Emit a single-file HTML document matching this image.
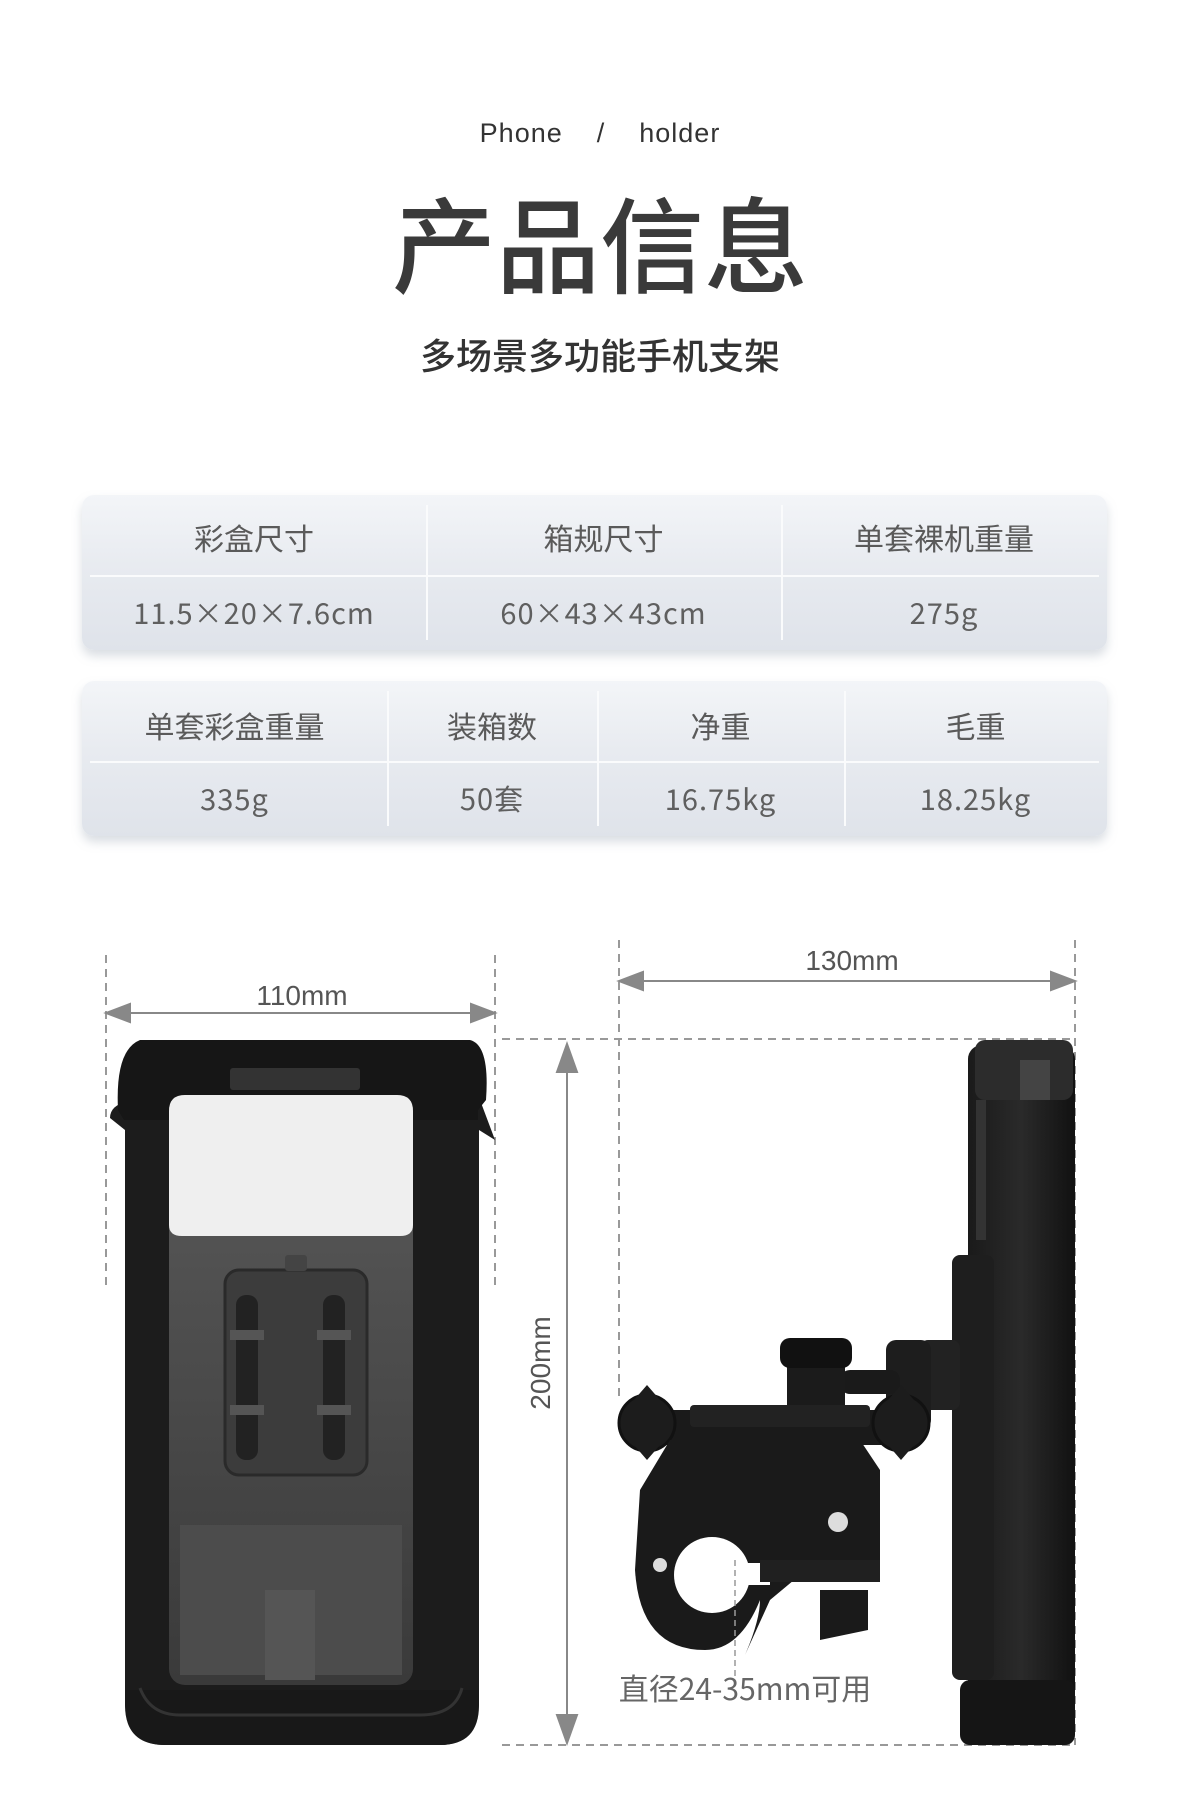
<!DOCTYPE html>
<html><head><meta charset="utf-8">
<style>
html,body{margin:0;padding:0;background:#fff;}
body{width:1200px;height:1800px;position:relative;overflow:hidden;font-family:"Liberation Sans","Noto Sans CJK SC",sans-serif;color:#555;}
.abs{position:absolute;}
.t1{left:0;width:1200px;text-align:center;}
.tbl{position:absolute;left:82px;width:1025px;border-radius:12px;background:linear-gradient(180deg,#f3f5f8 0%,#e8ebf0 45%,#dfe3ea 100%);box-shadow:0 6px 10px rgba(150,160,175,0.35);}
.cell{position:absolute;text-align:center;font-size:30px;line-height:40px;height:40px;color:#5a5a5a;font-family:"Noto Sans CJK SC","Liberation Sans",sans-serif;}
.val{font-family:"Noto Sans CJK SC",sans-serif;font-size:29px;color:#5f5f5f;letter-spacing:1px;}
.vl{position:absolute;width:2px;background:#fafbfc;}
.hl{position:absolute;height:2px;background:#fafbfc;}
</style></head><body>

<div class="abs t1" style="top:118px;font-size:27px;color:#333;letter-spacing:1px;">Phone&nbsp;&nbsp;&nbsp;&nbsp;/&nbsp;&nbsp;&nbsp;&nbsp;holder</div>
<div class="abs t1" style="top:180px;font-size:104px;color:#3a3a3a;font-family:'Noto Sans CJK SC',sans-serif;font-weight:500;line-height:120px;">产品信息</div>
<div class="abs t1" style="top:328px;font-size:36px;color:#333;font-family:'Noto Sans CJK SC',sans-serif;font-weight:500;">多场景多功能手机支架</div>

<div class="tbl" style="top:495px;height:155px;">
  <div class="hl" style="left:8px;right:8px;top:80px;"></div>
  <div class="vl" style="left:344px;top:10px;bottom:10px;"></div>
  <div class="vl" style="left:699px;top:10px;bottom:10px;"></div>
  <div class="cell" style="left:0;width:344px;top:22px;">彩盒尺寸</div>
  <div class="cell" style="left:344px;width:355px;top:22px;">箱规尺寸</div>
  <div class="cell" style="left:699px;width:326px;top:22px;">单套裸机重量</div>
  <div class="cell val" style="left:0;width:344px;top:97px;">11.5×20×7.6cm</div>
  <div class="cell val" style="left:344px;width:355px;top:97px;">60×43×43cm</div>
  <div class="cell val" style="left:699px;width:326px;top:97px;">275g</div>
</div>

<div class="tbl" style="top:681px;height:155px;">
  <div class="hl" style="left:8px;right:8px;top:80px;"></div>
  <div class="vl" style="left:305px;top:10px;bottom:10px;"></div>
  <div class="vl" style="left:515px;top:10px;bottom:10px;"></div>
  <div class="vl" style="left:762px;top:10px;bottom:10px;"></div>
  <div class="cell" style="left:0;width:305px;top:24px;">单套彩盒重量</div>
  <div class="cell" style="left:305px;width:210px;top:24px;">装箱数</div>
  <div class="cell" style="left:515px;width:247px;top:24px;">净重</div>
  <div class="cell" style="left:762px;width:263px;top:24px;">毛重</div>
  <div class="cell val" style="left:0;width:305px;top:97px;">335g</div>
  <div class="cell val" style="left:305px;width:210px;top:97px;">50套</div>
  <div class="cell val" style="left:515px;width:247px;top:97px;">16.75kg</div>
  <div class="cell val" style="left:762px;width:263px;top:97px;">18.25kg</div>
</div>

<svg class="abs" style="left:0;top:0" width="1200" height="1800" viewBox="0 0 1200 1800">
  <defs>
    <linearGradient id="inner" x1="0" y1="0" x2="0" y2="1">
      <stop offset="0" stop-color="#5a5a5a"/><stop offset="1" stop-color="#3a3a3a"/>
    </linearGradient>
    <linearGradient id="side" x1="0" y1="0" x2="1" y2="0">
      <stop offset="0" stop-color="#1a1a1a"/><stop offset="0.5" stop-color="#2a2a2a"/><stop offset="1" stop-color="#111"/>
    </linearGradient>
  </defs>
  <g stroke="#999" stroke-width="2" stroke-dasharray="8,6" fill="none">
    <line x1="106" y1="955" x2="106" y2="1290"/>
    <line x1="495" y1="955" x2="495" y2="1290"/>
    <line x1="619" y1="940" x2="619" y2="1400"/>
    <line x1="1075" y1="940" x2="1075" y2="1745"/>
    <line x1="502" y1="1039" x2="1072" y2="1039"/>
    <line x1="502" y1="1745" x2="1072" y2="1745"/>
  </g>
  <g stroke="#888" stroke-width="2" fill="#888">
    <line x1="110" y1="1013" x2="491" y2="1013"/>
    <polygon points="106,1013 130,1004 130,1022"/>
    <polygon points="495,1013 471,1004 471,1022"/>
    <line x1="623" y1="981" x2="1071" y2="981"/>
    <polygon points="619,981 643,972 643,990"/>
    <polygon points="1075,981 1051,972 1051,990"/>
    <line x1="567" y1="1048" x2="567" y2="1740"/>
    <polygon points="567,1044 557,1072 577,1072"/>
    <polygon points="567,1743 557,1715 577,1715"/>
  </g>
  <text x="302" y="1005" font-size="28" fill="#555" text-anchor="middle" font-family="Liberation Sans">110mm</text>
  <text x="852" y="970" font-size="28" fill="#555" text-anchor="middle" font-family="Liberation Sans">130mm</text>
  <text x="0" y="0" font-size="28" fill="#555" text-anchor="middle" font-family="Liberation Sans" transform="translate(550,1363) rotate(-90)">200mm</text>

  <path d="M145,1100 Q110,1100 110,1118 L125,1130 L125,1700 Q125,1745 165,1745 L440,1745 Q479,1745 479,1700 L479,1130 L495,1140 L480,1100 Q480,1040 440,1040 L170,1040 Q130,1040 125,1090 Z" fill="#1c1c1c"/>
  <path d="M140,1040 L470,1040 Q490,1045 486,1100 L478,1110 L478,1120 L124,1120 L118,1110 Q115,1050 140,1040Z" fill="#161616"/>
  <rect x="230" y="1068" width="130" height="22" rx="3" fill="#333"/>
  <rect x="169" y="1095" width="244" height="590" rx="16" fill="url(#inner)"/>
  <path d="M185,1095 L397,1095 Q413,1095 413,1111 L413,1225 Q413,1236 400,1236 L182,1236 Q169,1236 169,1225 L169,1111 Q169,1095 185,1095Z" fill="#efefef"/>
  <rect x="225" y="1270" width="142" height="205" rx="14" fill="#3c3c3c" stroke="#2a2a2a" stroke-width="3"/>
  <rect x="285" y="1255" width="22" height="16" rx="3" fill="#444"/>
  <rect x="236" y="1295" width="22" height="165" rx="10" fill="#222"/>
  <rect x="323" y="1295" width="22" height="165" rx="10" fill="#222"/>
  <rect x="230" y="1330" width="34" height="10" fill="#555"/><rect x="230" y="1405" width="34" height="10" fill="#555"/>
  <rect x="317" y="1330" width="34" height="10" fill="#555"/><rect x="317" y="1405" width="34" height="10" fill="#555"/>
  <rect x="180" y="1525" width="222" height="150" fill="#4c4c4c"/>
  <rect x="265" y="1590" width="50" height="90" fill="#555"/>
  <path d="M125,1690 L479,1690 L479,1705 Q479,1745 440,1745 L165,1745 Q125,1745 125,1705Z" fill="#181818"/>
  <path d="M140,1688 Q150,1715 180,1715 L420,1715 Q455,1715 462,1688" fill="none" stroke="#333" stroke-width="3"/>

  <rect x="968" y="1045" width="107" height="700" rx="14" fill="url(#side)"/>
  <rect x="975" y="1040" width="98" height="60" rx="10" fill="#2c2c2c"/>
  <rect x="1020" y="1060" width="30" height="40" fill="#444"/>
  <rect x="976" y="1100" width="10" height="140" fill="#333"/>
  <rect x="952" y="1255" width="42" height="425" rx="8" fill="#1e1e1e"/>
  <rect x="960" y="1680" width="115" height="65" rx="10" fill="#151515"/>

  <rect x="920" y="1340" width="40" height="70" rx="8" fill="#222"/>
  <rect x="886" y="1340" width="45" height="90" rx="10" fill="#1d1d1d"/>
  <rect x="840" y="1370" width="60" height="24" rx="10" fill="#1a1a1a"/>
  <rect x="787" y="1348" width="58" height="65" rx="8" fill="#1b1b1b"/>
  <rect x="780" y="1338" width="72" height="30" rx="10" fill="#111"/>
  <path d="M646,1410 L910,1410 L910,1445 L640,1445Z" fill="#1a1a1a"/>
  <rect x="690" y="1405" width="180" height="22" rx="4" fill="#222"/>
  <circle cx="647" cy="1423" r="28" fill="#1c1c1c" stroke="#111" stroke-width="3"/>
  <circle cx="901" cy="1423" r="28" fill="#1c1c1c" stroke="#111" stroke-width="3"/>
  <path d="M647,1385 L660,1400 L634,1400Z M647,1460 L660,1445 L634,1445Z" fill="#1c1c1c"/>
  <path d="M901,1385 L914,1400 L888,1400Z M901,1460 L914,1445 L888,1445Z" fill="#1c1c1c"/>
  <path d="M670,1440 L860,1440 L880,1470 L880,1560 L860,1575 L800,1575 L770,1600 L745,1655 Q760,1620 760,1600 Q740,1650 705,1650 Q640,1650 635,1570 L640,1490 Z" fill="#1a1a1a"/>
  <circle cx="712" cy="1575" r="38" fill="#fff"/>
  <rect x="690" y="1563" width="80" height="22" fill="#fff"/>
  <rect x="760" y="1560" width="120" height="22" fill="#202020"/>
  <circle cx="838" cy="1522" r="10" fill="#ddd"/>
  <circle cx="660" cy="1565" r="7" fill="#ddd"/>
  <circle cx="842" cy="1612" r="10" fill="#ddd"/>
  <path d="M820,1590 L868,1590 L868,1630 L820,1640Z" fill="#1a1a1a"/>
  <line x1="735" y1="1560" x2="735" y2="1680" stroke="#999" stroke-width="1.5" stroke-dasharray="6,4"/>
  <text x="745" y="1700" font-size="30" fill="#666" text-anchor="middle" font-family="Noto Sans CJK SC">直径24-35mm可用</text>
</svg>
</body></html>
